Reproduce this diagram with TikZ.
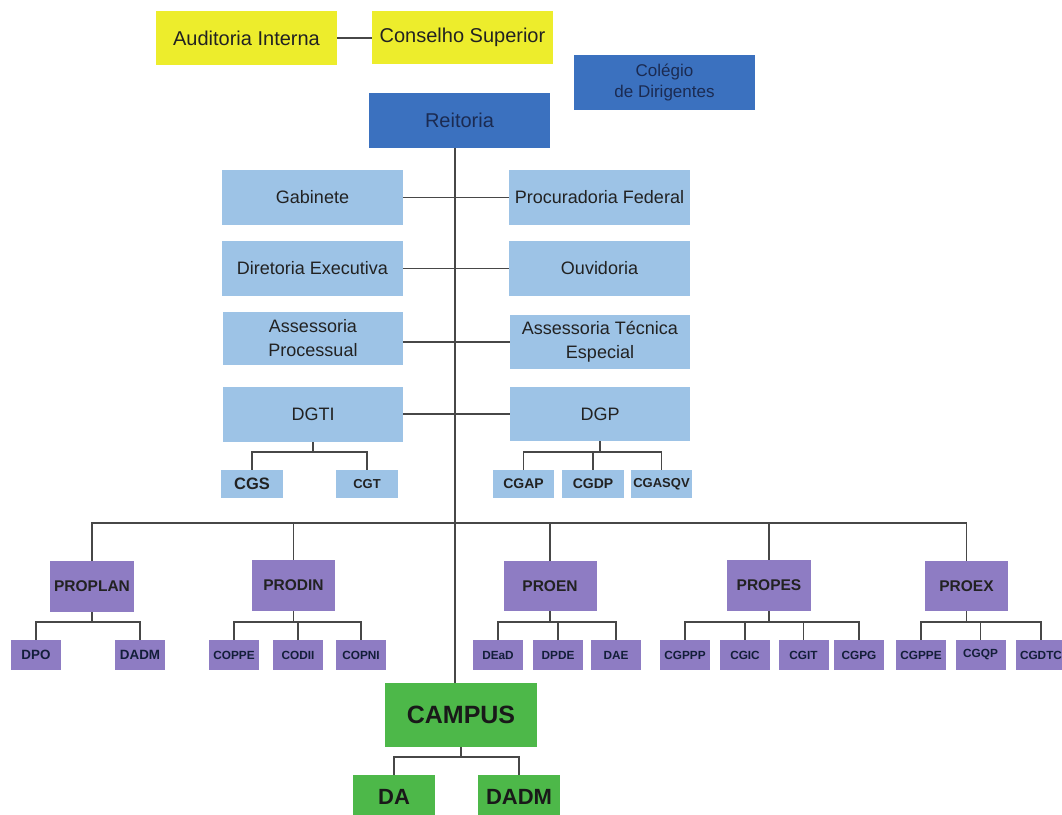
\documentclass[tikz,border=0pt]{standalone}
\usepackage{fontspec}
\setmainfont{Liberation Sans}
\definecolor{yel}{HTML}{EDED2C}
\definecolor{blu}{HTML}{3B71BF}
\definecolor{lblu}{HTML}{9DC3E6}
\definecolor{purp}{HTML}{8E7CC3}
\definecolor{grn}{HTML}{4DB849}
\definecolor{txt}{HTML}{222222}
\definecolor{navy}{HTML}{1B2B52}
\definecolor{ln}{HTML}{474747}
\tikzset{
  box/.style={draw=none, inner sep=0pt, align=center, text=txt},
  yelbox/.style={box, fill=yel, font=\fontsize{20}{22}\selectfont},
  blubox/.style={box, fill=blu, text=navy},
  lbox/.style={box, fill=lblu, font=\fontsize{18}{24}\selectfont, minimum width=181, minimum height=55},
  lsub/.style={box, fill=lblu, font=\bfseries\fontsize{14}{16}\selectfont, minimum width=62, minimum height=28},
  pbox/.style={box, fill=purp, font=\bfseries\fontsize{15.5}{18}\selectfont, minimum height=51},
  psub/.style={box, fill=purp, font=\bfseries\fontsize{11.8}{13}\selectfont, minimum width=50, minimum height=30, text=navy!70!black},
  gbox/.style={box, fill=grn, font=\bfseries\fontsize{22}{26}\selectfont, text=black!90},
  conn/.style={draw=ln, line width=1.4pt}
}
\begin{document}
\begin{tikzpicture}[x=1pt,y=-1pt]
\useasboundingbox (0,0) rectangle (1062,814);
% top
\node[yelbox, minimum width=181, minimum height=54] (aud) at (246.5,38) {Auditoria Interna};
\node[yelbox, minimum width=181, minimum height=53] (cons) at (462.5,37.5) {Conselho Superior};
\node[blubox, minimum width=181, minimum height=55, font=\fontsize{17}{21}\selectfont] (coleg) at (664.5,82.5) {Colégio\\de Dirigentes};
\node[blubox, minimum width=181, minimum height=55, font=\fontsize{20}{22}\selectfont] (reit) at (459.5,120.5) {Reitoria};
% advisory
\node[lbox] (gab) at (312.5,197.5) {Gabinete};
\node[lbox] (proc) at (599.5,197.5) {Procuradoria Federal};
\node[lbox] (dir) at (312.5,268.5) {Diretoria Executiva};
\node[lbox] (ouv) at (599.5,268.5) {Ouvidoria};
\node[lbox, minimum width=180, minimum height=53] (assp) at (313,338.5) {Assessoria\\Processual};
\node[lbox, minimum width=180, minimum height=54] (asst) at (600,342) {Assessoria Técnica\\Especial};
\node[lbox, minimum width=180] (dgti) at (313,414.5) {DGTI};
\node[lbox, minimum width=180, minimum height=54] (dgp) at (600,414) {DGP};
\node[lsub, font=\bfseries\fontsize{16.5}{18}\selectfont] (cgs) at (252,484) {CGS};
\node[lsub, font=\bfseries\fontsize{13}{15}\selectfont] (cgt) at (367,484) {CGT};
\node[lsub, minimum width=61] (cgap) at (523.5,484) {CGAP};
\node[lsub] (cgdp) at (593,484) {CGDP};
\node[lsub, minimum width=61, font=\bfseries\fontsize{13}{15}\selectfont] (cgasqv) at (661.5,484) {CGASQV};
% pro-reitorias
\node[pbox, minimum width=84] (proplan) at (92,586.5) {PROPLAN};
\node[pbox, minimum width=83] (prodin) at (293.5,585.5) {PRODIN};
\node[pbox, minimum width=93, minimum height=50] (proen) at (550,586) {PROEN};
\node[pbox, minimum width=84] (propes) at (769,585.5) {PROPES};
\node[pbox, minimum width=83, minimum height=50] (proex) at (966.5,586) {PROEX};
\node[psub, font=\bfseries\fontsize{13.4}{15}\selectfont] (dpo) at (36,655) {DPO};
\node[psub, font=\bfseries\fontsize{13.4}{15}\selectfont] (dadma) at (140,655) {DADM};
\node[psub] (coppe) at (234,655) {COPPE};
\node[psub] (codii) at (298,655) {CODII};
\node[psub] (copni) at (361,655) {COPNI};
\node[psub] (dead) at (498,655) {DEaD};
\node[psub] (dpde) at (558,655) {DPDE};
\node[psub] (dae) at (616,655) {DAE};
\node[psub] (cgppp) at (685,655) {CGPPP};
\node[psub] (cgic) at (745,655) {CGIC};
\node[psub] (cgit) at (803.5,655) {CGIT};
\node[psub] (cgpg) at (859,655) {CGPG};
\node[psub] (cgppe) at (921,655) {CGPPE};
\node[psub] (cgqp) at (980.5,655) {CGQP};
\node[psub] (cgdtc) at (1041,655) {CGDTC};
% campus
\node[gbox, minimum width=152, minimum height=64, font=\bfseries\fontsize{25}{28}\selectfont] (campus) at (461,715) {CAMPUS};
\node[gbox, minimum width=82, minimum height=44] (da) at (394,797) {DA};
\node[gbox, minimum width=82, minimum height=44] (dadmb) at (519,797) {DADM};
% coordinates
\coordinate (tx) at (455,0);
\coordinate (bdg) at (0,452);
\coordinate (bmain) at (0,523);
\coordinate (bpro) at (0,622);
\coordinate (bcam) at (0,757);
% connectors
\draw[conn] (aud.east) -- (aud.east -| cons.west);
\draw[conn] (reit.south -| tx) -- (campus.north -| tx);
\draw[conn] (gab.east) -- (proc.west);
\draw[conn] (dir.east) -- (ouv.west);
\draw[conn] (asst.west -| assp.east) -- (asst.west);
\draw[conn] (dgp.west -| dgti.east) -- (dgp.west);
% DGTI / DGP
\draw[conn] (dgti.south) -- (dgti.south |- bdg);
\draw[conn] (cgs.north) |- (bdg -| cgt.north) -- (cgt.north);
\draw[conn] (dgp.south) -- (dgp.south |- bdg);
\draw[conn] (cgap.north) |- (bdg -| cgasqv.north) -- (cgasqv.north);
\draw[conn] (cgdp.north) -- (cgdp.north |- bdg);
% main bus
\draw[conn] (proplan.north) |- (bmain -| proex.north) -- (proex.north);
\draw[conn] (prodin.north) -- (prodin.north |- bmain);
\draw[conn] (proen.north) -- (proen.north |- bmain);
\draw[conn] (propes.north) -- (propes.north |- bmain);
% PROPLAN
\draw[conn] (proplan.south) -- (proplan.south |- bpro);
\draw[conn] (dpo.north) |- (bpro -| dadma.north) -- (dadma.north);
% PRODIN
\draw[conn] (prodin.south) -- (prodin.south |- bpro);
\draw[conn] (coppe.north) |- (bpro -| copni.north) -- (copni.north);
\draw[conn] (codii.north) -- (codii.north |- bpro);
% PROEN
\draw[conn] (proen.south) -- (proen.south |- bpro);
\draw[conn] (dead.north) |- (bpro -| dae.north) -- (dae.north);
\draw[conn] (dpde.north) -- (dpde.north |- bpro);
% PROPES
\draw[conn] (propes.south) -- (propes.south |- bpro);
\draw[conn] (cgppp.north) |- (bpro -| cgpg.north) -- (cgpg.north);
\draw[conn] (cgic.north) -- (cgic.north |- bpro);
\draw[conn] (cgit.north) -- (cgit.north |- bpro);
% PROEX
\draw[conn] (proex.south) -- (proex.south |- bpro);
\draw[conn] (cgppe.north) |- (bpro -| cgdtc.north) -- (cgdtc.north);
\draw[conn] (cgqp.north) -- (cgqp.north |- bpro);
% CAMPUS
\draw[conn] (campus.south) -- (campus.south |- bcam);
\draw[conn] (da.north) |- (bcam -| dadmb.north) -- (dadmb.north);
\end{tikzpicture}
\end{document}
